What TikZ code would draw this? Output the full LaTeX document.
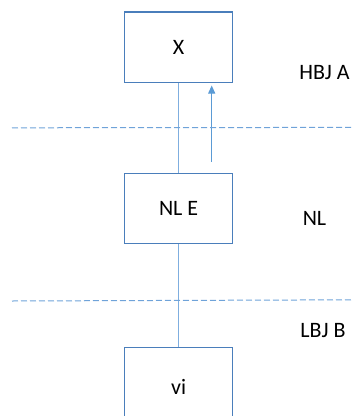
\documentclass[tikz,border=0pt]{standalone}
\usepackage{fontspec}
\setmainfont{Carlito}
\usetikzlibrary{arrows.meta}
\definecolor{boxc}{HTML}{4A7EBB}
\definecolor{linec}{HTML}{7FAEDF}
\definecolor{arrc}{HTML}{5B9BD5}
\definecolor{dashc}{HTML}{6FA3D9}
\tikzset{
  layerbox/.style={draw=boxc, line width=1.4pt, minimum width=108pt, inner sep=0pt, font=\fontsize{22}{26}\selectfont},
  conn/.style={draw=linec, line width=1.1pt},
  upflow/.style={draw=arrc, line width=1pt, -{Triangle[width=7pt,length=8pt]}},
  sep/.style={draw=dashc, line width=1pt, dash pattern=on 6pt off 3pt},
  lbl/.style={font=\fontsize{22}{26}\selectfont, inner sep=0pt}
}
\begin{document}
\begin{tikzpicture}[x=1pt,y=-1pt]
\useasboundingbox (0,0) rectangle (353,416);
\node[layerbox, minimum height=70.3pt] (X) at (178.6,47.2) {X};
\node[layerbox, minimum height=70.4pt] (NLE) at (178.6,208.5) {NL E};
\node[layerbox, minimum height=80pt] (vi) at (178.6,387.3) {vi};
\draw[conn] (X.south) -- (NLE.north);
\draw[conn] (NLE.south) -- (vi.north);
\coordinate (as) at (211.7,161.7);
\coordinate (ae) at (211.7,85.5);
\draw[upflow] (as) -- (ae);
\coordinate (d1a) at (12,127.8);
\coordinate (d1b) at (353,127.4);
\coordinate (d2a) at (12,301);
\coordinate (d2b) at (353,299.8);
\draw[sep] (d1a) -- (d1b);
\draw[sep] (d2a) -- (d2b);
\node[lbl] (hbj) at (324.5,73) {HBJ A};
\node[lbl] (nl) at (314.5,218) {NL};
\node[lbl] (lbj) at (323,330.5) {LBJ B};
\end{tikzpicture}
\end{document}
